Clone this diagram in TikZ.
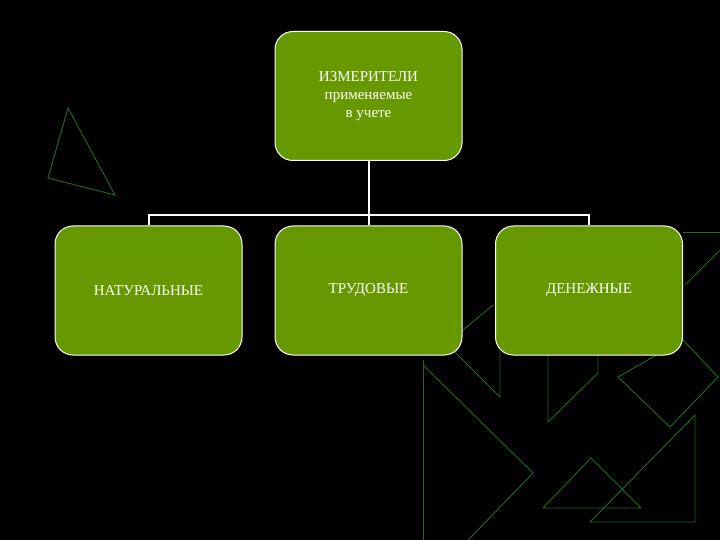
\documentclass[tikz,border=0pt]{standalone}
\usepackage{fontspec}
\setmainfont{Liberation Serif}
\begin{document}
\begin{tikzpicture}[x=1pt,y=-1pt,
  box/.style={draw=white,line width=1pt,fill=boxgreen,rounded corners=18pt,minimum width=187pt,minimum height=129pt,text=white,font=\fontsize{15}{18}\selectfont,align=center,inner sep=0pt},
  deco/.style={draw=decogreen,line width=0.9pt},
  conn/.style={draw=white,line width=2pt}]
\definecolor{boxgreen}{HTML}{669900}
\definecolor{decogreen}{HTML}{1E6B2A}
\fill[black] (0,0) rectangle (720,540);
\useasboundingbox (0,0) rectangle (720,540);
% decorations
\draw[deco] (68,108)--(48,178)--(115,195)--cycle;
\draw[deco] (423,360)--(423,540);
\draw[deco] (423,365)--(533,473)--(468,540);
\draw[deco] (453,350)--(500,397)--(500,350);
\draw[deco] (463,330)--(493,305);
\draw[deco] (548,350)--(548,422)--(598,373)--(598,350);
\draw[deco] (618,377)--(670,427)--(718,377)--(683,340)--cycle;
\draw[deco] (543,508)--(591,458)--(641,508)--cycle;
\draw[deco] (590,522)--(695,415)--(695,522)--cycle;
\draw[deco] (683,232)--(720,232);
\draw[deco] (685,285)--(720,250);
% boxes
\node[box] (top) at (368.5,96) {ИЗМЕРИТЕЛИ\\применяемые\\в учете};
\node[box] (nat) at (148.5,290.5) {НАТУРАЛЬНЫЕ};
\node[box] (tru) at (368.5,290.5) {ТРУДОВЫЕ};
\node[box] (den) at (589,290.5) {ДЕНЕЖНЫЕ};
\coordinate (bus) at (368.5,215);
\draw[conn] (top.south)--(bus);
\draw[conn] (nat.north)--(nat.north|-bus)--(den.north|-bus)--(den.north);
\draw[conn] (tru.north)--(bus);
\end{tikzpicture}
\end{document}
